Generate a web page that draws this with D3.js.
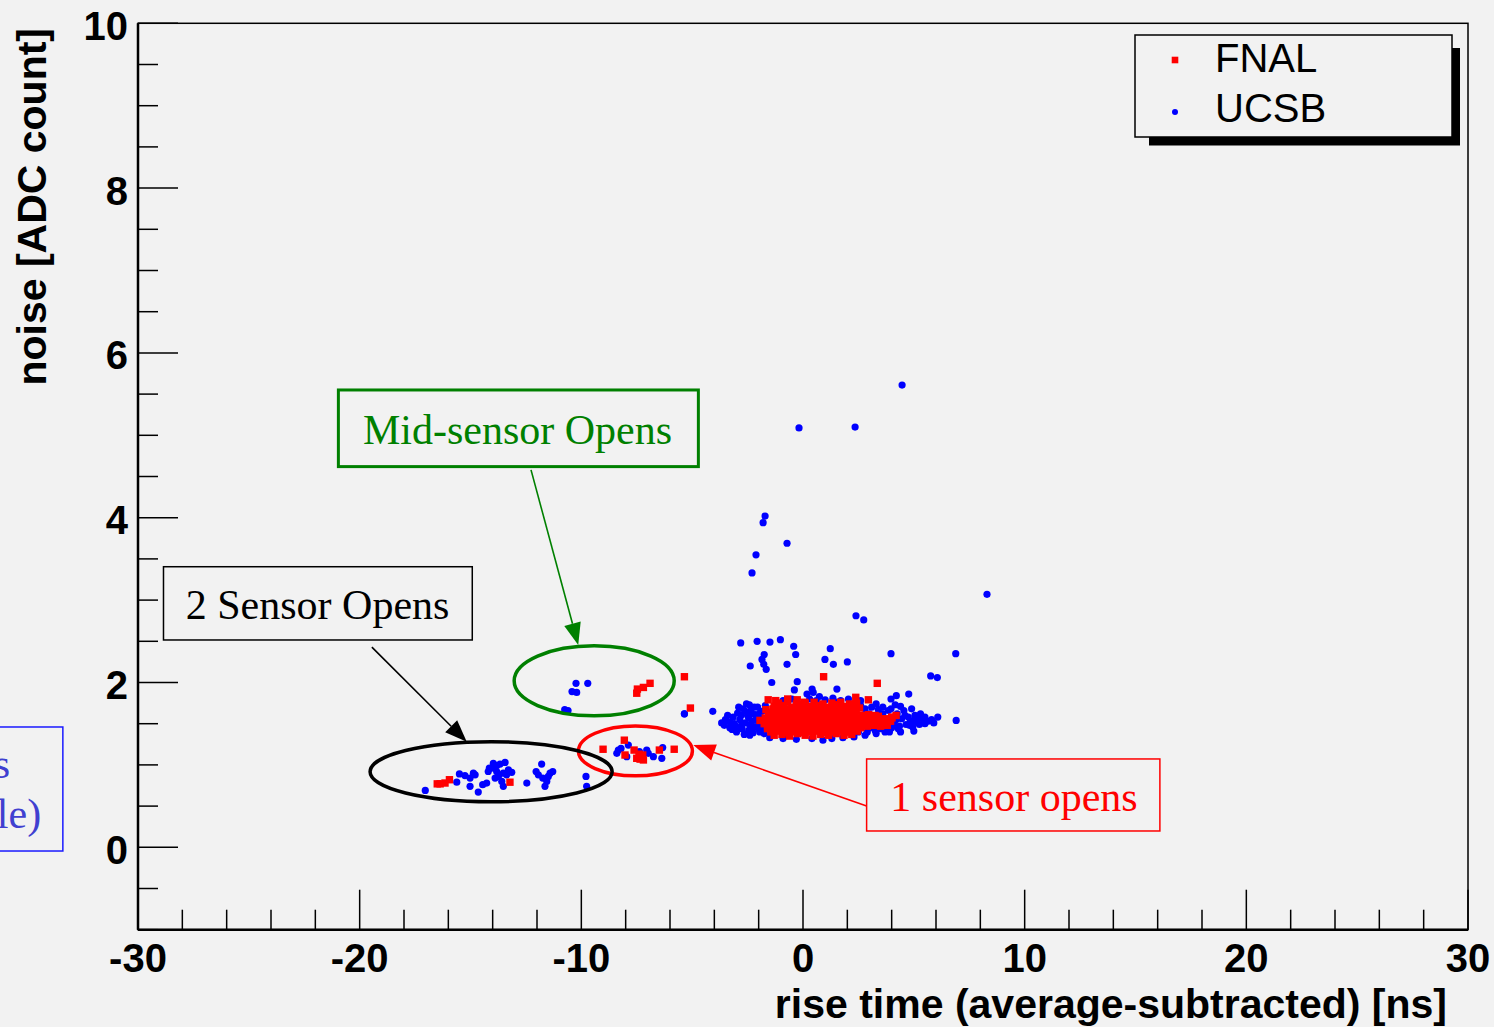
<!DOCTYPE html>
<html><head><meta charset="utf-8">
<script src="https://cdn.jsdelivr.net/npm/d3@7"></script>
<style>
html,body{margin:0;padding:0;background:#f2f2f2;}
svg{display:block;}
</style></head>
<body>
<svg id="chart" width="1494" height="1027"></svg>
<script>
// ---------- DATA ----------
const xTickValues = [-30, -20, -10, 0, 10, 20, 30];
const xTickLabels = ["-30", "-20", "-10", "0", "10", "20", "30"];
const yTickValues = [0, 2, 4, 6, 8, 10];
const yTickLabels = ["0", "2", "4", "6", "8", "10"];
const seriesNames = ["FNAL", "UCSB"];

// UCSB (blue dots): [rise time, noise]
const ucsbOutliers = [
  [4.47,5.61],[-0.18,5.09],[2.35,5.10],[-1.71,4.02],[-1.80,3.94],[-0.72,3.69],[-2.12,3.55],[-2.30,3.33],
  [8.30,3.07],[2.39,2.81],[2.74,2.76],[-2.81,2.48],[-2.07,2.50],[-1.49,2.49],[-1.02,2.52],[-0.42,2.44],
  [-0.33,2.34],[-1.75,2.34],[-1.85,2.28],[-1.77,2.22],[-1.66,2.16],[-2.38,2.20],[-0.72,2.22],[1.23,2.41],
  [0.99,2.28],[1.37,2.22],[2.00,2.25],[3.97,2.35],[6.89,2.35],[5.76,2.08],[6.06,2.06],[-1.41,2.00],
  [-0.26,2.01],[-0.39,1.91],[1.53,1.92],[0.18,1.86],[0.41,1.92],[0.46,1.88],[0.74,1.83],[3.97,1.80],
  [4.21,1.84],[4.77,1.86],[4.16,1.73],[3.97,1.68],[-2.42,1.73],[-4.07,1.65],[-5.35,1.62],[-3.67,1.51],
  [6.08,1.58],[6.91,1.54]
];
const ucsbCluster = [
  [-3.3,1.52],[-3.15,1.58],[-3.05,1.47],[-2.95,1.63],[-2.85,1.55],[-2.75,1.44],[-2.7,1.68],[-2.6,1.51],
  [-2.5,1.60],[-2.45,1.42],[-2.35,1.66],[-2.3,1.53],[-2.2,1.46],[-2.15,1.61],[-2.05,1.70],[-2.0,1.50],
  [-1.95,1.40],[-1.9,1.57],[-1.85,1.65],[-1.8,1.45],[-1.75,1.38],[-1.7,1.72],[-3.2,1.43],[-2.9,1.70],
  [-2.55,1.74],[-2.25,1.39],[-3.4,1.60],[-2.65,1.37],
  [-3.5,1.55],[-3.1,1.50],[-2.8,1.60],[-2.6,1.65],[-2.4,1.48],[-2.1,1.55],[-1.95,1.63],[-3.0,1.40],
  [-2.2,1.70],[-2.75,1.50],[-3.3,1.45],[-2.45,1.57],[-1.85,1.50],[-2.0,1.44],[-3.55,1.48],[-2.9,1.46],[-2.3,1.62],
  [2.6,1.72],[2.8,1.68],[3.0,1.45],[3.1,1.70],[3.25,1.42],[3.4,1.67],[3.5,1.44],[3.6,1.70],[3.75,1.47],
  [3.85,1.66],[4.0,1.45],[4.1,1.50],[4.25,1.62],[4.35,1.47],[4.45,1.56],[4.55,1.66],[4.65,1.49],[4.75,1.58],
  [4.85,1.53],[4.95,1.46],[5.05,1.60],[5.15,1.52],[5.25,1.49],[5.4,1.56],[5.5,1.50],[5.65,1.53],[5.8,1.55],
  [4.4,1.71],[4.9,1.68],[5.3,1.62],[3.3,1.74],[2.9,1.40],[3.7,1.40],[2.5,1.40],
  [3.0,1.62],[3.3,1.55],[3.6,1.62],[3.9,1.52],[4.2,1.55],[4.6,1.60],[5.0,1.54],[5.2,1.58],[4.3,1.44],
  [3.5,1.50],[4.8,1.48],[5.5,1.58],[5.9,1.51],
  [-0.9,1.78],[-0.5,1.80],[0.3,1.80],[0.6,1.78],[1.0,1.79],[1.35,1.81],[1.7,1.78],[2.05,1.80],[2.6,1.78],[1.5,1.76],
  [-2.4,1.36],[-1.5,1.33],[-0.9,1.32],[-0.3,1.31],[0.4,1.32],[0.9,1.30],[1.3,1.32],[1.8,1.33],[2.3,1.34],
  [2.8,1.36],[3.3,1.38],[3.9,1.40],[4.4,1.40],[5.0,1.41]
];
const ucsbMidSensor = [
  [-10.24,1.99],[-9.71,1.99],[-10.42,1.89],[-10.21,1.88],[-10.75,1.67],[-10.6,1.66],[-5.35,1.62]
];
const ucsbOneSensor = [
  [-8.33,1.18],[-8.40,1.14],[-7.88,1.24],[-7.95,1.10],[-7.38,1.16],[-6.98,1.14],[-6.75,1.10],[-6.37,1.08],
  [-6.33,1.21],[-7.05,1.18],[-8.21,1.20]
];
const ucsbTwoSensor = [
  [-17.04,0.69],[-15.62,0.79],[-15.50,0.89],[-15.25,0.87],[-15.02,0.84],[-14.87,0.90],[-15.02,0.74],[-14.65,0.67],
  [-14.45,0.76],[-14.27,0.78],[-14.15,0.96],[-13.97,1.02],[-13.82,0.99],[-13.67,1.01],[-13.44,1.03],[-13.29,0.94],
  [-13.14,0.91],[-13.52,0.90],[-13.74,0.86],[-13.89,0.84],[-14.04,0.96],[-13.37,0.88],[-13.59,0.80],[-13.52,0.74],
  [-14.20,0.92],[-13.82,0.92],[-12.46,0.78],[-11.79,1.01],[-12.04,0.92],[-11.94,0.88],[-11.74,0.84],[-11.56,0.80],
  [-11.41,0.90],[-11.29,0.92],[-11.49,0.86],[-11.64,0.74],[-9.79,0.86],[-9.76,0.74],[-14.79,0.88]
];

// FNAL (red squares): [rise time, noise]
const fnalCore = [
  [-1.3,1.36],[-0.95,1.37],[-0.6,1.35],[-0.25,1.38],[0.1,1.36],[0.45,1.35],[0.8,1.37],[1.15,1.36],[1.5,1.38],[1.85,1.36],[2.2,1.37],
  [-1.45,1.40],[-1.15,1.41],[-0.85,1.39],[-0.55,1.40],[-0.25,1.41],[0.05,1.39],[0.35,1.40],[0.65,1.41],[0.95,1.39],
  [1.25,1.40],[1.55,1.41],[1.85,1.39],[2.15,1.40],[2.45,1.41],
  [-1.6,1.44],[-1.3,1.42],[-1.0,1.45],[-0.7,1.43],[-0.4,1.44],[-0.1,1.42],[0.2,1.45],[0.5,1.43],[0.8,1.44],[1.1,1.42],
  [1.4,1.45],[1.7,1.43],[2.0,1.44],[2.3,1.42],[2.6,1.45],
  [-1.6,1.47],[-1.3,1.48],[-1.0,1.46],[-0.7,1.47],[-0.4,1.48],[-0.1,1.46],[0.2,1.47],[0.5,1.48],[0.8,1.46],[1.1,1.47],
  [1.4,1.48],[1.7,1.46],[2.0,1.47],[2.3,1.48],[2.6,1.46],[2.9,1.47],[3.2,1.48],[3.5,1.47],[3.8,1.48],
  [-1.75,1.50],[-1.45,1.52],[-1.15,1.49],[-0.85,1.51],[-0.55,1.50],[-0.25,1.52],[0.05,1.49],[0.35,1.51],[0.65,1.50],
  [0.95,1.52],[1.25,1.49],[1.55,1.51],[1.85,1.50],[2.15,1.52],[2.45,1.49],[2.75,1.51],[3.05,1.50],[3.35,1.52],[3.65,1.51],[3.95,1.53],
  [-1.55,1.54],[-1.25,1.55],[-0.95,1.53],[-0.65,1.54],[-0.35,1.55],[-0.05,1.53],[0.25,1.54],[0.55,1.55],[0.85,1.53],
  [1.15,1.54],[1.45,1.55],[1.75,1.53],[2.05,1.54],[2.35,1.55],[2.65,1.53],[2.95,1.54],[3.25,1.55],[3.55,1.54],[3.85,1.55],
  [-1.7,1.57],[-1.4,1.59],[-1.1,1.56],[-0.8,1.58],[-0.5,1.57],[-0.2,1.59],[0.1,1.56],[0.4,1.58],[0.7,1.57],[1.0,1.59],
  [1.3,1.56],[1.6,1.58],[1.9,1.57],[2.2,1.59],[2.5,1.56],[2.8,1.58],[3.1,1.57],[3.4,1.59],[3.7,1.56],[4.0,1.58],[4.2,1.60],
  [-1.55,1.61],[-1.25,1.62],[-0.95,1.60],[-0.65,1.61],[-0.35,1.62],[-0.05,1.60],[0.25,1.61],[0.55,1.62],[0.85,1.60],
  [1.15,1.61],[1.45,1.62],[1.75,1.60],[2.05,1.61],[2.35,1.62],[2.65,1.60],[2.95,1.61],[3.25,1.60],
  [-1.5,1.64],[-1.2,1.66],[-0.9,1.63],[-0.6,1.65],[-0.3,1.64],[0.0,1.66],[0.3,1.63],[0.6,1.65],[0.9,1.64],[1.2,1.66],
  [1.5,1.63],[1.8,1.65],[2.1,1.64],[2.4,1.66],
  [-1.35,1.68],[-1.05,1.69],[-0.75,1.67],[-0.45,1.68],[-0.15,1.69],[0.15,1.67],[0.45,1.68],[0.75,1.69],[1.05,1.67],
  [1.35,1.68],[1.65,1.69],[1.95,1.67],[2.25,1.68],[2.55,1.69],
  [-1.3,1.71],[-0.9,1.72],[-0.5,1.70],[-0.1,1.73],[0.3,1.71],[0.7,1.72],[1.1,1.70],[1.5,1.73],[1.9,1.71],[2.3,1.72],
  [-1.1,1.75],[-0.7,1.76],[-0.3,1.74],[0.1,1.75],[0.5,1.76],[0.9,1.74],[1.3,1.75],[1.7,1.76],[2.1,1.74],
  [-1.57,1.79],[-1.23,1.78],[-0.69,1.80],[-0.26,1.79],[0.05,1.76],[2.38,1.82],[2.95,1.79],[2.42,1.75],
  [-1.67,1.67],[-1.94,1.54],[4.01,1.57]
];
const fnalOutliers = [[-5.35,2.07],[-5.08,1.69],[0.93,2.07],[3.35,1.99]];
const fnalMidSensor = [[-7.47,1.92],[-7.20,1.94],[-6.90,1.99],[-7.50,1.87]];
const fnalOneSensor = [
  [-9.02,1.19],[-8.06,1.30],[-7.62,1.18],[-8.03,1.12],[-7.50,1.08],[-7.23,1.12],[-7.20,1.06],[-6.48,1.18],
  [-5.81,1.19],[-7.35,1.07],[-7.40,1.13]
];
const fnalTwoSensor = [[-16.37,0.77],[-16.15,0.78],[-15.95,0.82],[-13.22,0.79],[-16.5,0.77]];

// ---------- LAYOUT ----------
const W = 1494, H = 1027;
const plot = {left: 138, right: 1468, top: 23.3, bottom: 929.7};
const svg = d3.select("#chart");
svg.append("rect").attr("width", W).attr("height", H).attr("fill", "#f2f2f2");

const x = d3.scaleLinear().domain([-30, 30]).range([plot.left, plot.right]);
const y = d3.scaleLinear().domain([-1, 10]).range([plot.bottom, plot.top]);

const sansBold = "'Liberation Sans', Arial, Helvetica, sans-serif";
const serif = "'Liberation Serif', 'Times New Roman', Times, serif";

// frame
svg.append("rect").attr("x", plot.left).attr("y", plot.top)
  .attr("width", plot.right - plot.left).attr("height", plot.bottom - plot.top)
  .attr("fill", "none").attr("stroke", "#000").attr("stroke-width", 1.5);

// y axis ticks (inside, to the right)
const yMinor = d3.range(-1, 10.01, 0.5);
svg.append("g").selectAll("line").data(yMinor).join("line")
  .attr("x1", plot.left).attr("x2", d => plot.left + (yTickValues.includes(d) ? 40 : 20))
  .attr("y1", d => y(d)).attr("y2", d => y(d))
  .attr("stroke", "#000").attr("stroke-width", 1.5);
svg.append("g").selectAll("text").data(yTickValues).join("text")
  .attr("x", 128).attr("y", d => y(d) + 16.5)
  .attr("text-anchor", "end").attr("font-family", sansBold).attr("font-weight", "bold")
  .attr("font-size", 40).text((d, i) => yTickLabels[i]);

// x axis ticks (inside, upward)
const xMinor = d3.range(-30, 30.01, 2);
svg.append("g").selectAll("line").data(xMinor).join("line")
  .attr("x1", d => x(d)).attr("x2", d => x(d))
  .attr("y1", plot.bottom).attr("y2", d => plot.bottom - (xTickValues.includes(d) ? 40 : 20))
  .attr("stroke", "#000").attr("stroke-width", 1.5);
svg.append("g").selectAll("text").data(xTickValues).join("text")
  .attr("x", d => x(d)).attr("y", 972)
  .attr("text-anchor", "middle").attr("font-family", sansBold).attr("font-weight", "bold")
  .attr("font-size", 40).text((d, i) => xTickLabels[i]);

// axis lines (thicker)
svg.append("line").attr("x1", plot.left).attr("x2", plot.left).attr("y1", plot.top).attr("y2", plot.bottom)
  .attr("stroke", "#000").attr("stroke-width", 2.5);
svg.append("line").attr("x1", plot.left).attr("x2", plot.right).attr("y1", plot.bottom).attr("y2", plot.bottom)
  .attr("stroke", "#000").attr("stroke-width", 2.5);

// axis titles
svg.append("text").attr("x", 1447).attr("y", 1018).attr("text-anchor", "end")
  .attr("font-family", sansBold).attr("font-weight", "bold").attr("font-size", 41)
  .text("rise time (average-subtracted) [ns]");
svg.append("text").attr("transform", "translate(46,28) rotate(-90)").attr("text-anchor", "end")
  .attr("font-family", sansBold).attr("font-weight", "bold").attr("font-size", 41)
  .text("noise [ADC count]");

// ---------- POINTS ----------
const ucsbAll = [].concat(ucsbOutliers, ucsbCluster, ucsbMidSensor, ucsbOneSensor, ucsbTwoSensor);
const fnalAll = [].concat(fnalCore, fnalOutliers, fnalMidSensor, fnalOneSensor, fnalTwoSensor);

svg.append("g").selectAll("circle").data(ucsbAll).join("circle")
  .attr("cx", d => x(d[0])).attr("cy", d => y(d[1])).attr("r", 3.6).attr("fill", "#0000ff");
const sq = 7.4;
svg.append("g").selectAll("rect").data(fnalAll).join("rect")
  .attr("x", d => x(d[0]) - sq / 2).attr("y", d => y(d[1]) - sq / 2)
  .attr("width", sq).attr("height", sq).attr("fill", "#ff0000");

// ---------- ANNOTATIONS (data coordinates) ----------
function arrow(x0, y0, x1, y1, color) {
  const px0 = x(x0), py0 = y(y0), px1 = x(x1), py1 = y(y1);
  const ang = Math.atan2(py1 - py0, px1 - px0);
  const L = 22, Wd = 8.5;
  const bx = px1 - L * Math.cos(ang), by = py1 - L * Math.sin(ang);
  svg.append("line").attr("x1", px0).attr("y1", py0).attr("x2", bx).attr("y2", by)
    .attr("stroke", color).attr("stroke-width", 1.6);
  const pts = [[px1, py1],
    [bx + Wd * Math.sin(ang), by - Wd * Math.cos(ang)],
    [bx - Wd * Math.sin(ang), by + Wd * Math.cos(ang)]];
  svg.append("polygon").attr("points", pts.map(p => p.join(",")).join(" ")).attr("fill", color);
}
function ellipse(cx, cy, rx, ry, color) {
  svg.append("ellipse").attr("cx", x(cx)).attr("cy", y(cy))
    .attr("rx", x(cx + rx) - x(cx)).attr("ry", y(cy) - y(cy + ry))
    .attr("fill", "none").attr("stroke", color).attr("stroke-width", 3.5);
}
function box(x0, x1, yTop, yBot, color, sw) {
  svg.append("rect").attr("x", x(x0)).attr("y", y(yTop))
    .attr("width", x(x1) - x(x0)).attr("height", y(yBot) - y(yTop))
    .attr("fill", "#f2f2f2").attr("stroke", color).attr("stroke-width", sw);
}
function label(tx, ty, txt, color, size, anchor) {
  svg.append("text").attr("x", x(tx)).attr("y", y(ty)).attr("text-anchor", anchor || "middle")
    .attr("font-family", serif).attr("font-size", size).attr("fill", color).text(txt);
}

ellipse(-9.42, 2.02, 3.61, 0.425, "#008000");
ellipse(-7.56, 1.17, 2.57, 0.303, "#ff0000");
ellipse(-14.07, 0.917, 5.46, 0.364, "#000000");

arrow(-12.27, 4.58, -10.14, 2.455, "#008000");
arrow(-19.45, 2.43, -15.17, 1.28, "#000000");
arrow(2.87, 0.50, -4.95, 1.24, "#ff0000");

box(-20.96, -4.72, 5.55, 4.62, "#008000", 3);
label(-12.88, 4.90, "Mid-sensor Opens", "#008000", 42);
box(-28.85, -14.92, 3.405, 2.516, "#000000", 1.5);
label(-21.90, 2.767, "2 Sensor Opens", "#000000", 42);
box(2.87, 16.10, 1.072, 0.198, "#ff0000", 1.5);
label(9.52, 0.44, "1 sensor opens", "#ff0000", 42);

// partially visible note box at far left (cut by the page edge, as in the original)
box(-39, -33.39, 1.46, -0.045, "#1a1aff", 1.5);
label(-35.77, 0.84, "sensor opens", "#4040d0", 42, "end");
label(-34.37, 0.234, "(in the middle)", "#4040d0", 42, "end");

// ---------- LEGEND ----------
const lg = {x0: 1135, y0: 35, x1: 1452, y1: 137};
svg.append("rect").attr("x", lg.x0 + 14).attr("y", lg.y0 + 13)
  .attr("width", lg.x1 - lg.x0 - 6).attr("height", lg.y1 - lg.y0 - 4.5).attr("fill", "#000");
svg.append("rect").attr("x", lg.x0).attr("y", lg.y0).attr("width", lg.x1 - lg.x0).attr("height", lg.y1 - lg.y0)
  .attr("fill", "#f2f2f2").attr("stroke", "#000").attr("stroke-width", 1.5);
svg.append("rect").attr("x", 1175 - 3.3).attr("y", 60 - 3.3).attr("width", 6.6).attr("height", 6.6).attr("fill", "#ff0000");
svg.append("circle").attr("cx", 1175).attr("cy", 112).attr("r", 3).attr("fill", "#0000ff");
svg.append("g").selectAll("text").data(seriesNames).join("text")
  .attr("x", 1215).attr("y", (d, i) => 72 + i * 50)
  .attr("font-family", sansBold).attr("font-size", 40).attr("fill", "#000").text(d => d);
</script>
</body></html>
